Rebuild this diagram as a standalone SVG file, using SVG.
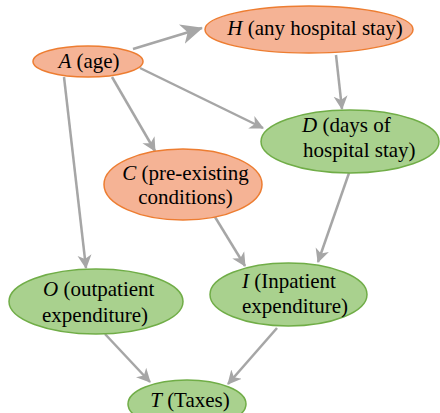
<svg xmlns="http://www.w3.org/2000/svg" width="440" height="413" viewBox="0 0 440 413">
<defs>
<style>
.or{fill:#F5B395;stroke:#ED7D31;stroke-width:1.5}
.gr{fill:#A9D18E;stroke:#70AD47;stroke-width:1.5}
.t{font-size:21px;fill:#000}
.i{font-style:italic}
.e{stroke:#A6A6A6;stroke-width:2.5;fill:none}
</style>
<marker id="ah" markerUnits="userSpaceOnUse" markerWidth="16" markerHeight="16" refX="13" refY="7" orient="auto" viewBox="0 0 16 14">
<path d="M0,0 L14,7 L0,14 L4,7 Z" fill="#A6A6A6"/>
</marker>
<marker id="ahL" markerUnits="userSpaceOnUse" markerWidth="24" markerHeight="22" refX="21" refY="10" orient="auto" viewBox="0 0 24 20">
<path d="M0,0 L22,10 L0,20 L6,10 Z" fill="#A6A6A6"/>
</marker>
</defs>
<rect width="440" height="413" fill="#fff"/>
<g id="connectors">
<line class="e" x1="133" y1="49" x2="202" y2="28" marker-end="url(#ahL)"/>
<line class="e" x1="140" y1="68" x2="263" y2="128" marker-end="url(#ah)"/>
<line class="e" x1="112" y1="77" x2="155" y2="151" marker-end="url(#ah)"/>
<line class="e" x1="64" y1="77" x2="86" y2="268" marker-end="url(#ah)"/>
<line class="e" x1="336" y1="55" x2="342" y2="109" marker-end="url(#ah)"/>
<line class="e" x1="215" y1="217" x2="245" y2="266" marker-end="url(#ah)"/>
<line class="e" x1="349" y1="173" x2="318" y2="262" marker-end="url(#ah)"/>
<line class="e" x1="105" y1="334" x2="150" y2="382" marker-end="url(#ah)"/>
<line class="e" x1="277" y1="328" x2="228" y2="384" marker-end="url(#ah)"/>
</g>
<g font-family="'Liberation Serif', 'Times New Roman', serif">
<g id="A">
<ellipse class="or" cx="88" cy="61.5" rx="55" ry="15.5"/>
<text class="t" x="89" y="68" text-anchor="middle"><tspan class="i">A</tspan> (age)</text>
</g>
<g id="H">
<ellipse class="or" cx="309" cy="29.5" rx="104" ry="23.5"/>
<text class="t" x="315" y="35" text-anchor="middle"><tspan class="i">H</tspan> (any hospital stay)</text>
</g>
<g id="D">
<ellipse class="gr" cx="350" cy="141.5" rx="89" ry="31.5"/>
<text class="t" x="302" y="132"><tspan class="i">D</tspan> (days of</text>
<text class="t" x="303" y="157">hospital stay)</text>
</g>
<g id="C">
<ellipse class="or" cx="183" cy="184.5" rx="79" ry="35.5"/>
<text class="t" x="185.5" y="180" text-anchor="middle"><tspan class="i">C</tspan> (pre-existing</text>
<text class="t" x="185.5" y="204" text-anchor="middle">conditions)</text>
</g>
<g id="O">
<ellipse class="gr" cx="96" cy="301.5" rx="87" ry="32.5"/>
<text class="t" x="43" y="296"><tspan class="i">O</tspan> (outpatient</text>
<text class="t" x="42" y="322">expenditure)</text>
</g>
<g id="I">
<ellipse class="gr" cx="288.5" cy="294.5" rx="78.5" ry="31.5"/>
<text class="t" x="242" y="288"><tspan class="i">I</tspan> (Inpatient</text>
<text class="t" x="242" y="313">expenditure)</text>
</g>
<g id="T">
<ellipse class="gr" cx="187" cy="404" rx="59" ry="24"/>
<text class="t" x="190" y="407" text-anchor="middle"><tspan class="i">T</tspan> (Taxes)</text>
</g>
</g>
</svg>
